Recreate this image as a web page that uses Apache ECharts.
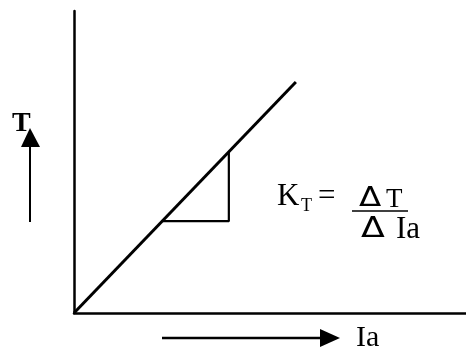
<!DOCTYPE html>
<html>
<head>
<meta charset="utf-8">
<script src="https://cdn.jsdelivr.net/npm/echarts@6/dist/echarts.min.js"></script>
<style>
  html, body { margin: 0; padding: 0; background: #fff; }
  #main { width: 466px; height: 354px; }
</style>
</head>
<body>
<div id="main"></div>
<script>
// T vs Ia characteristic (arbitrary units, axes 0..100)
const ia = [0, 56.6];
const torque = [0, 76.5];
// slope triangle: horizontal leg then vertical leg
const triIa = [22.7, 39.5, 39.5];
const triT = [30.4, 30.4, 53.3];

const serif = '"Liberation Serif", "DejaVu Serif", serif';
const sans = '"DejaVu Sans", sans-serif';

const chart = echarts.init(document.getElementById('main'));

function txt(x, y, text, font, extra) {
  return Object.assign({
    type: 'text', x: x, y: y,
    style: { text: text, font: font, fill: '#000', textAlign: 'left', textVerticalAlign: 'middle' }
  }, extra || {});
}

chart.setOption({
  animation: false,
  backgroundColor: '#fff',
  grid: { left: 74, right: 0, top: 11, bottom: 41 },
  xAxis: {
    type: 'value', min: 0, max: 100,
    axisLine: { lineStyle: { color: '#000', width: 2.5 } },
    axisTick: { show: false }, axisLabel: { show: false }, splitLine: { show: false }
  },
  yAxis: {
    type: 'value', min: 0, max: 100,
    axisLine: { show: true, lineStyle: { color: '#000', width: 2.5 } },
    axisTick: { show: false }, axisLabel: { show: false }, splitLine: { show: false }
  },
  series: [
    {
      type: 'line',
      data: ia.map((x, i) => [x, torque[i]]),
      symbol: 'none',
      lineStyle: { color: '#000', width: 3 }
    },
    {
      type: 'line',
      data: triIa.map((x, i) => [x, triT[i]]),
      symbol: 'none',
      lineStyle: { color: '#000', width: 2.2 }
    }
  ],
  graphic: [
    // T label with upward arrow
    txt(12, 124, 'T', 'bold 28px ' + serif),
    { type: 'line', shape: { x1: 30, y1: 222, x2: 30, y2: 145 }, style: { stroke: '#000', lineWidth: 2 } },
    { type: 'polygon', shape: { points: [[30, 128], [21, 147], [40, 147]] }, style: { fill: '#000' } },
    // Ia label with right arrow
    { type: 'line', shape: { x1: 162, y1: 338, x2: 322, y2: 338 }, style: { stroke: '#000', lineWidth: 2.5 } },
    { type: 'polygon', shape: { points: [[340, 338], [320, 329], [320, 347]] }, style: { fill: '#000' } },
    txt(356, 338, 'Ia', '30px ' + serif),
    // K_T = ΔT / ΔIa
    txt(277, 197, 'K', '31px ' + serif),
    txt(301, 206, 'T', '18px ' + serif),
    txt(318, 197, '=', '31px ' + serif),
    txt(359, 199, '\u0394', '26px ' + sans, { scaleX: 1.25 }),
    txt(386, 200, 'T', '27px ' + serif),
    { type: 'line', shape: { x1: 352, y1: 211, x2: 408, y2: 211 }, style: { stroke: '#000', lineWidth: 1.5 } },
    txt(361, 229, '\u0394', '29px ' + sans, { scaleX: 1.2 }),
    txt(396, 230, 'Ia', '31px ' + serif)
  ]
});
</script>
</body>
</html>
